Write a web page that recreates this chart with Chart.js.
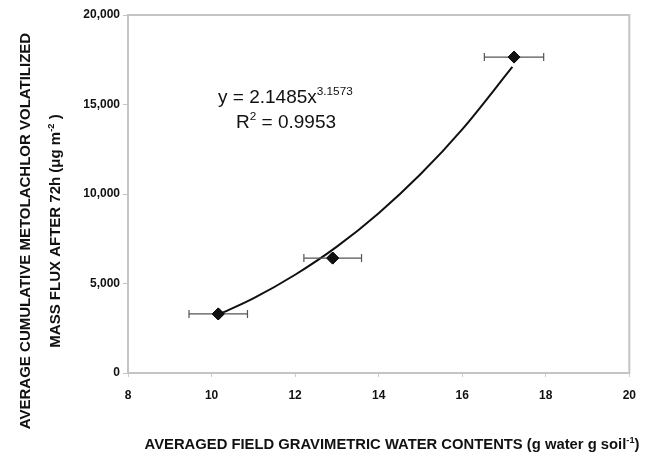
<!DOCTYPE html>
<html>
<head>
<meta charset="utf-8">
<script src="https://cdn.jsdelivr.net/npm/chart.js@4.4.1/dist/chart.umd.min.js"></script>
<style>
  html, body { margin: 0; padding: 0; background: #fff; }
  #wrap { width: 647px; height: 459px; position: relative; }
</style>
</head>
<body>
<div id="wrap"><canvas id="fluxChart"></canvas></div>
<script>
// measured points (water content vs. flux)
const waterContent = [10.16, 12.9, 17.24];
const waterErr = [0.70, 0.69, 0.71];
const fluxValues = [3300, 6420, 17650];

// power trendline
const fitX = [10.16, 11, 12, 13, 14, 15, 16, 17.2];
const fitY = [3260, 4170, 5490, 7060, 8930, 11100, 13610, 17100];

const xTicks = [8, 10, 12, 14, 16, 18, 20];
const yTicks = [0, 5000, 10000, 15000, 20000];

const FONT = 'Liberation Sans, Arial, sans-serif';

// draws a string made of [text, isSuperscript] pieces
function drawParts(ctx, parts, x, y, size, bold, align) {
    const w = p => {
        ctx.font = (bold ? 'bold ' : '') + (p[1] ? size * 0.62 : size) + 'px ' + FONT;
        return ctx.measureText(p[0]).width;
    };
    let total = 0;
    parts.forEach(p => total += w(p));
    let cx = align === 'center' ? x - total / 2 : x;
    parts.forEach(p => {
        const pw = w(p);
        ctx.fillText(p[0], cx, p[1] ? y - size * 0.42 : y);
        cx += pw;
    });
}

const extras = {
    id: 'extras',
    afterDraw(chart) {
        const ctx = chart.ctx;
        const a = chart.chartArea;
        const xs = chart.scales.x, ys = chart.scales.y;
        ctx.save();

        // plot box
        ctx.strokeStyle = '#c4c4c4';
        ctx.lineWidth = 2;
        ctx.strokeRect(a.left, a.top, a.right - a.left, a.bottom - a.top);

        // horizontal error bars
        ctx.strokeStyle = '#555';
        ctx.lineWidth = 1.2;
        waterContent.forEach((v, i) => {
            const py = ys.getPixelForValue(fluxValues[i]);
            const x0 = xs.getPixelForValue(v - waterErr[i]);
            const x1 = xs.getPixelForValue(v + waterErr[i]);
            ctx.beginPath();
            ctx.moveTo(x0, py); ctx.lineTo(x1, py);
            ctx.moveTo(x0, py - 4); ctx.lineTo(x0, py + 4);
            ctx.moveTo(x1, py - 4); ctx.lineTo(x1, py + 4);
            ctx.stroke();
        });

        // redraw markers over the bars
        const meta = chart.getDatasetMeta(1);
        meta.data.forEach(pt => pt.draw(ctx, a));

        ctx.fillStyle = '#111';
        ctx.textBaseline = 'alphabetic';
        ctx.textAlign = 'left';

        // equation
        drawParts(ctx, [['y = 2.1485x', false], ['3.1573', true]], a.left + 90, 103, 19, false, 'left');
        drawParts(ctx, [['R', false], ['2', true], [' = 0.9953', false]], a.left + 108, 128, 19, false, 'left');

        // x title
        drawParts(ctx, [['AVERAGED FIELD GRAVIMETRIC WATER CONTENTS (g water g soil', false], ['-1', true], [')', false]],
            392, 449, 14.8, true, 'center');

        // y title, two rotated lines
        ctx.translate(0, 231);
        ctx.rotate(-Math.PI / 2);
        drawParts(ctx, [['AVERAGE CUMULATIVE METOLACHLOR VOLATILIZED', false]], 0, 30, 15, true, 'center');
        drawParts(ctx, [['MASS FLUX AFTER 72h (\u03bcg m', false], ['-2', true], [' )', false]], 0, 60, 15, true, 'center');
        ctx.restore();
    }
};

new Chart(document.getElementById('fluxChart'), {
    type: 'scatter',
    data: {
        datasets: [{
            type: 'line',
            data: fitX.map((x, i) => ({ x: x, y: fitY[i] })),
            borderColor: '#111',
            borderWidth: 2,
            pointRadius: 0,
            cubicInterpolationMode: 'monotone',
            fill: false
        }, {
            data: waterContent.map((x, i) => ({ x: x, y: fluxValues[i] })),
            pointStyle: 'rectRot',
            pointRadius: 6,
            backgroundColor: '#111',
            borderColor: '#111',
            borderWidth: 1
        }]
    },
    options: {
        responsive: true,
        maintainAspectRatio: false,
        animation: false,
        layout: { padding: { left: 0, top: 15, right: 14, bottom: 0 } },
        plugins: { legend: { display: false }, tooltip: { enabled: false } },
        scales: {
            x: {
                type: 'linear',
                min: 8, max: 20,
                afterBuildTicks: s => { s.ticks = xTicks.map(v => ({ value: v })); },
                afterFit: s => { s.height = 86; },
                grid: { drawOnChartArea: false, drawTicks: true, tickLength: 4, color: '#ccc' },
                border: { color: '#c4c4c4', width: 2 },
                ticks: { color: '#111', padding: 11, font: { family: FONT, size: 12, weight: 'bold' } }
            },
            y: {
                min: 0, max: 20000,
                afterBuildTicks: s => { s.ticks = yTicks.map(v => ({ value: v })); },
                afterFit: s => { s.width = 128; },
                grid: { drawOnChartArea: false, drawTicks: true, tickLength: 5, color: '#c4c4c4' },
                border: { color: '#c4c4c4', width: 2 },
                ticks: {
                    color: '#111', padding: 3,
                    font: { family: FONT, size: 12, weight: 'bold' },
                    callback: v => v.toLocaleString('en-US')
                }
            }
        }
    },
    plugins: [extras]
});
</script>
</body>
</html>
